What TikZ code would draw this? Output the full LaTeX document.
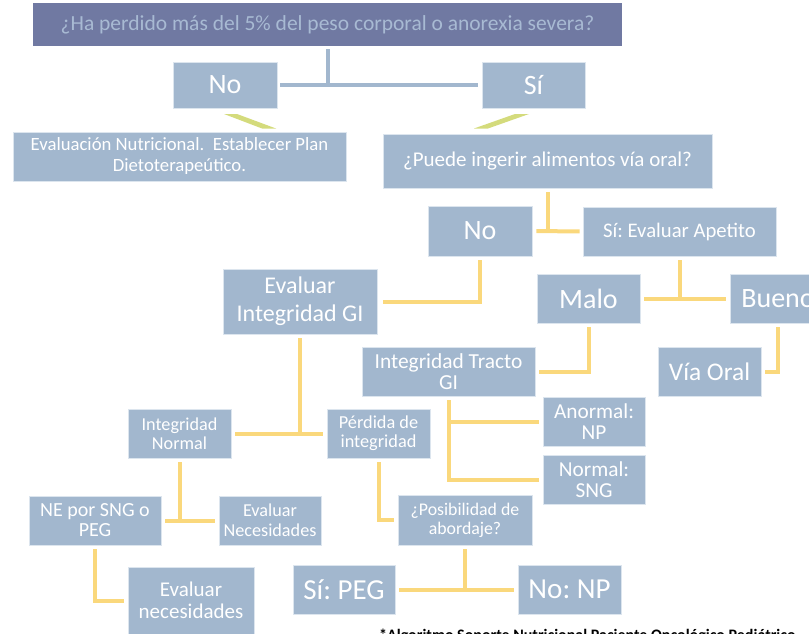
\documentclass[tikz,border=0pt]{standalone}
\usepackage{fontspec}
\setmainfont{Carlito}
\usetikzlibrary{calc}
\frenchspacing
\definecolor{boxblue}{HTML}{A2B7CE}
\definecolor{boxedge}{HTML}{DCE5EE}
\definecolor{titlefill}{HTML}{7079A2}
\definecolor{titletext}{HTML}{A8BAD3}
\definecolor{linkyellow}{HTML}{FAD87C}
\definecolor{wedgegreen}{HTML}{D4DB7C}
\tikzset{
    flowbox/.style n args={2}{fill=boxblue, draw=boxedge, line width=0.6pt, text=white,
        align=center, inner sep=1pt, minimum width=#1, minimum height=#2},
    fs/.style 2 args={font=\fontsize{#1}{#2}\selectfont},
    link/.style={draw=linkyellow, line width=4pt, shorten <=4pt},
    toplink/.style={draw=boxblue, line width=4pt, shorten <=3pt}
}

\begin{document}
\begin{tikzpicture}[x=1pt,y=-1pt]
		\useasboundingbox (0,0) rectangle (809,634);
		\clip (0,0) rectangle (809,634);
		% first question
		\node[fill=titlefill, text=titletext, minimum width=589, minimum height=43, fs={21.5}{24}] (title) at (327.5,24.5) {¿Ha perdido más del 5\% del peso corporal o anorexia severa?};
		\node[flowbox={104}{46}, fs={28}{30}] (no1) at (225,85) {No};
		\node[flowbox={103}{46}, fs={28}{30}] (si1) at (533.5,85) {Sí};
		\node[flowbox={333}{49}, fs={18.7}{21}] (evalnut) at (179.5,156.5) {Evaluación Nutricional.~ Establecer Plan\\Dietoterapeútico.};
		\node[flowbox={329}{54}, fs={21}{24}] (puede) at (547.5,161) {¿Puede ingerir alimentos vía oral?};
		\draw[toplink] (title.south) -- (title.south |- no1.east);
		\draw[toplink, shorten >=4pt] (no1.east) -- (si1.west);
		\fill[wedgegreen] (224,114) -- (237,114) -- (276,128.5) -- (262,128.5) -- cycle;
		\fill[wedgegreen] (515,114) -- (529,114) -- (488,128.5) -- (474,128.5) -- cycle;
		% oral route
		\node[flowbox={104}{50}, fs={28}{30}] (no2) at (480,231) {No};
		\node[flowbox={193}{49}, fs={20.7}{23}] (apetito) at (679.5,231.5) {Sí: Evaluar Apetito};
		\node[flowbox={154}{65}, fs={24}{28}] (evalgi) at (300,301.5) {Evaluar\\Integridad GI};
		\node[flowbox={103}{49}, fs={28}{30}] (malo) at (588.5,298.5) {Malo};
		\node[flowbox={96}{49}, fs={28}{30}] (bueno) at (778,298.5) {Bueno};
		\node[flowbox={173}{49}, fs={21.4}{21}] (tracto) at (448.5,371.5) {Integridad Tracto\\GI};
		\node[flowbox={103}{49}, fs={25.4}{28}] (viaoral) at (709.5,371.5) {Vía Oral};
		\draw[link] (puede.south) -- (puede.south |- no2.east);
		\draw[link, shorten >=3pt] (no2.east) -- (apetito.west);
		\draw[link, shorten >=6pt] (no2.south) |- (evalgi.east);
		\draw[link] (apetito.south) -- (apetito.south |- malo.east);
		\draw[link, shorten >=4pt] (malo.east) -- (bueno.west);
		\draw[link, shorten >=4pt] (malo.south) |- (tracto.east);
		\draw[link, shorten >=4pt] (bueno.south) |- (viaoral.east);
		% GI integrity
		\node[flowbox={103}{49}, fs={18.2}{19}] (intnormal) at (179.5,433.5) {Integridad\\Normal};
		\node[flowbox={103}{49}, fs={18.3}{19}] (perdida) at (378.5,433.5) {Pérdida de\\integridad};
		\node[flowbox={102}{49}, fs={21.3}{21}] (anormal) at (594,421.5) {Anormal:\\NP};
		\node[flowbox={102}{49}, fs={21.3}{21}] (normal) at (594,479.5) {Normal:\\SNG};
		\draw[link] (evalgi.south) -- (evalgi.south |- intnormal.east);
		\draw[link, shorten >=4pt] (intnormal.east) -- (perdida.west);
		\draw[link, shorten >=4pt] (tracto.south) |- (anormal.west);
		\draw[link, shorten >=4pt] (tracto.south) |- (normal.west);
		% feeding
		\node[flowbox={132}{49}, fs={20}{20}] (ne) at (95,520.5) {NE por SNG o\\PEG};
		\node[flowbox={102}{49}, fs={18.2}{20}] (evalnec) at (270,520.5) {Evaluar\\Necesidades};
		\node[flowbox={134}{50}, fs={17.8}{19}] (posib) at (465,520) {¿Posibilidad de\\abordaje?};
		\node[flowbox={126}{67}, fs={21}{22}] (evalnec2) at (191,600.5) {Evaluar\\necesidades};
		\node[flowbox={102}{49}, fs={29}{30}] (sipeg) at (344,589.5) {Sí: PEG};
		\node[flowbox={103}{49}, fs={29}{30}] (nonp) at (569.5,589.5) {No: NP};
		\draw[link] (intnormal.south) -- (intnormal.south |- ne.east);
		\draw[link, shorten >=4pt] (ne.east) -- (evalnec.west);
		\draw[link, shorten >=4pt] (ne.south) |- (evalnec2.west);
		\draw[link, shorten >=4pt] (perdida.south) |- (posib.west);
		\draw[link] (posib.south) -- (posib.south |- sipeg.east);
		\draw[link, shorten >=4pt] (sipeg.east) -- (nonp.west);
		\node[anchor=base west, inner sep=0pt, font=\fontsize{16}{17}\selectfont\bfseries] (note) at (379,640) {*Algoritmo Soporte Nutricional Paciente Oncológico Pediátrico};
	\end{tikzpicture}
\end{document}
